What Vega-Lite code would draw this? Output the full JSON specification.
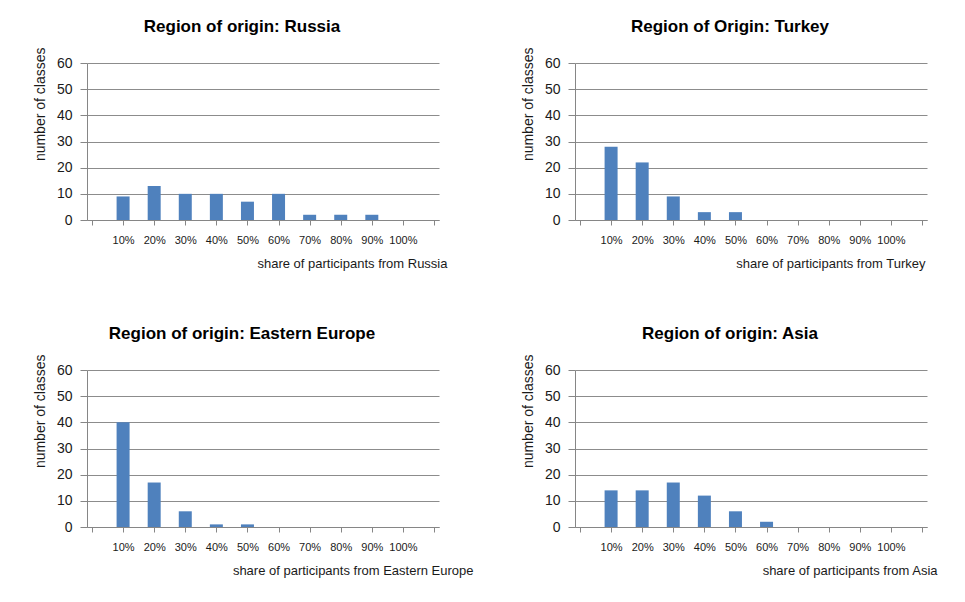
{
  "$schema": "https://vega.github.io/schema/vega-lite/v6.json",
  "background": "white",
  "padding": {"left": 33, "top": 18, "right": 5, "bottom": 5},
  "datasets": {
    "hist": [
      {"region": "Russia", "share": 10, "classes": 9},
      {"region": "Russia", "share": 20, "classes": 13},
      {"region": "Russia", "share": 30, "classes": 10},
      {"region": "Russia", "share": 40, "classes": 10},
      {"region": "Russia", "share": 50, "classes": 7},
      {"region": "Russia", "share": 60, "classes": 10},
      {"region": "Russia", "share": 70, "classes": 2},
      {"region": "Russia", "share": 80, "classes": 2},
      {"region": "Russia", "share": 90, "classes": 2},
      {"region": "Russia", "share": 100, "classes": 0},
      {"region": "Turkey", "share": 10, "classes": 28},
      {"region": "Turkey", "share": 20, "classes": 22},
      {"region": "Turkey", "share": 30, "classes": 9},
      {"region": "Turkey", "share": 40, "classes": 3},
      {"region": "Turkey", "share": 50, "classes": 3},
      {"region": "Turkey", "share": 60, "classes": 0},
      {"region": "Turkey", "share": 70, "classes": 0},
      {"region": "Turkey", "share": 80, "classes": 0},
      {"region": "Turkey", "share": 90, "classes": 0},
      {"region": "Turkey", "share": 100, "classes": 0},
      {"region": "Eastern Europe", "share": 10, "classes": 40},
      {"region": "Eastern Europe", "share": 20, "classes": 17},
      {"region": "Eastern Europe", "share": 30, "classes": 6},
      {"region": "Eastern Europe", "share": 40, "classes": 1},
      {"region": "Eastern Europe", "share": 50, "classes": 1},
      {"region": "Eastern Europe", "share": 60, "classes": 0},
      {"region": "Eastern Europe", "share": 70, "classes": 0},
      {"region": "Eastern Europe", "share": 80, "classes": 0},
      {"region": "Eastern Europe", "share": 90, "classes": 0},
      {"region": "Eastern Europe", "share": 100, "classes": 0},
      {"region": "Asia", "share": 10, "classes": 14},
      {"region": "Asia", "share": 20, "classes": 14},
      {"region": "Asia", "share": 30, "classes": 17},
      {"region": "Asia", "share": 40, "classes": 12},
      {"region": "Asia", "share": 50, "classes": 6},
      {"region": "Asia", "share": 60, "classes": 2},
      {"region": "Asia", "share": 70, "classes": 0},
      {"region": "Asia", "share": 80, "classes": 0},
      {"region": "Asia", "share": 90, "classes": 0},
      {"region": "Asia", "share": 100, "classes": 0}
    ]
  },
  "columns": 2,
  "bounds": "flush",
  "spacing": {"column": 136, "row": 150},
  "concat": [
    {
      "data": {"name": "hist"},
      "transform": [{"filter": "datum.region === 'Russia'"}],
      "title": {"text": "Region of origin: Russia"},
      "width": 352, "height": 157,
      "mark": {"type": "bar", "size": 13, "color": "#4F81BD"},
      "encoding": {
        "x": {"field": "share", "type": "quantitative", "scale": {"domain": [0, 110], "nice": false},
              "axis": {"title": "share of participants from Russia", "titleX": 360,
                       "values": [0, 10, 20, 30, 40, 50, 60, 70, 80, 90, 100, 110]}},
        "y": {"field": "classes", "type": "quantitative", "scale": {"domain": [0, 60], "nice": false},
              "axis": {"title": "number of classes", "values": [0, 10, 20, 30, 40, 50, 60]}}
      }
    },
    {
      "data": {"name": "hist"},
      "transform": [{"filter": "datum.region === 'Turkey'"}],
      "title": {"text": "Region of Origin: Turkey"},
      "width": 352, "height": 157,
      "mark": {"type": "bar", "size": 13, "color": "#4F81BD"},
      "encoding": {
        "x": {"field": "share", "type": "quantitative", "scale": {"domain": [0, 110], "nice": false},
              "axis": {"title": "share of participants from Turkey", "titleX": 350,
                       "values": [0, 10, 20, 30, 40, 50, 60, 70, 80, 90, 100, 110]}},
        "y": {"field": "classes", "type": "quantitative", "scale": {"domain": [0, 60], "nice": false},
              "axis": {"title": "number of classes", "values": [0, 10, 20, 30, 40, 50, 60]}}
      }
    },
    {
      "data": {"name": "hist"},
      "transform": [{"filter": "datum.region === 'Eastern Europe'"}],
      "title": {"text": "Region of origin: Eastern Europe"},
      "width": 352, "height": 157,
      "mark": {"type": "bar", "size": 13, "color": "#4F81BD"},
      "encoding": {
        "x": {"field": "share", "type": "quantitative", "scale": {"domain": [0, 110], "nice": false},
              "axis": {"title": "share of participants from Eastern Europe", "titleX": 386,
                       "values": [0, 10, 20, 30, 40, 50, 60, 70, 80, 90, 100, 110]}},
        "y": {"field": "classes", "type": "quantitative", "scale": {"domain": [0, 60], "nice": false},
              "axis": {"title": "number of classes", "values": [0, 10, 20, 30, 40, 50, 60]}}
      }
    },
    {
      "data": {"name": "hist"},
      "transform": [{"filter": "datum.region === 'Asia'"}],
      "title": {"text": "Region of origin: Asia"},
      "width": 352, "height": 157,
      "mark": {"type": "bar", "size": 13, "color": "#4F81BD"},
      "encoding": {
        "x": {"field": "share", "type": "quantitative", "scale": {"domain": [0, 110], "nice": false},
              "axis": {"title": "share of participants from Asia", "titleX": 362,
                       "values": [0, 10, 20, 30, 40, 50, 60, 70, 80, 90, 100, 110]}},
        "y": {"field": "classes", "type": "quantitative", "scale": {"domain": [0, 60], "nice": false},
              "axis": {"title": "number of classes", "values": [0, 10, 20, 30, 40, 50, 60]}}
      }
    }
  ],
  "config": {
    "font": "Liberation Sans",
    "view": {"stroke": null},
    "title": {"fontSize": 17, "fontWeight": "bold", "color": "#000000", "frame": "group", "anchor": "middle", "dx": -21, "offset": 11},
    "axis": {
      "domainColor": "#868686", "tickColor": "#868686", "gridColor": "#8c8c8c",
      "labelColor": "#1a1a1a", "titleColor": "#1a1a1a", "titleFontWeight": "normal",
      "labelFont": "Liberation Sans", "titleFont": "Liberation Sans"
    },
    "axisX": {
      "labelExpr": "datum.value > 0 && datum.value < 110 ? datum.value + '%' : ''",
      "grid": false, "tickSize": 5, "labelPadding": 9, "labelFontSize": 11,
      "titleFontSize": 13, "titleAlign": "right", "titlePadding": 12,
      "labelAngle": 0
    },
    "axisY": {
      "grid": true, "tickSize": 7, "labelPadding": 8, "labelFontSize": 14,
      "titleFontSize": 14, "titleAlign": "right", "titleY": -16, "titlePadding": 9
    }
  }
}
